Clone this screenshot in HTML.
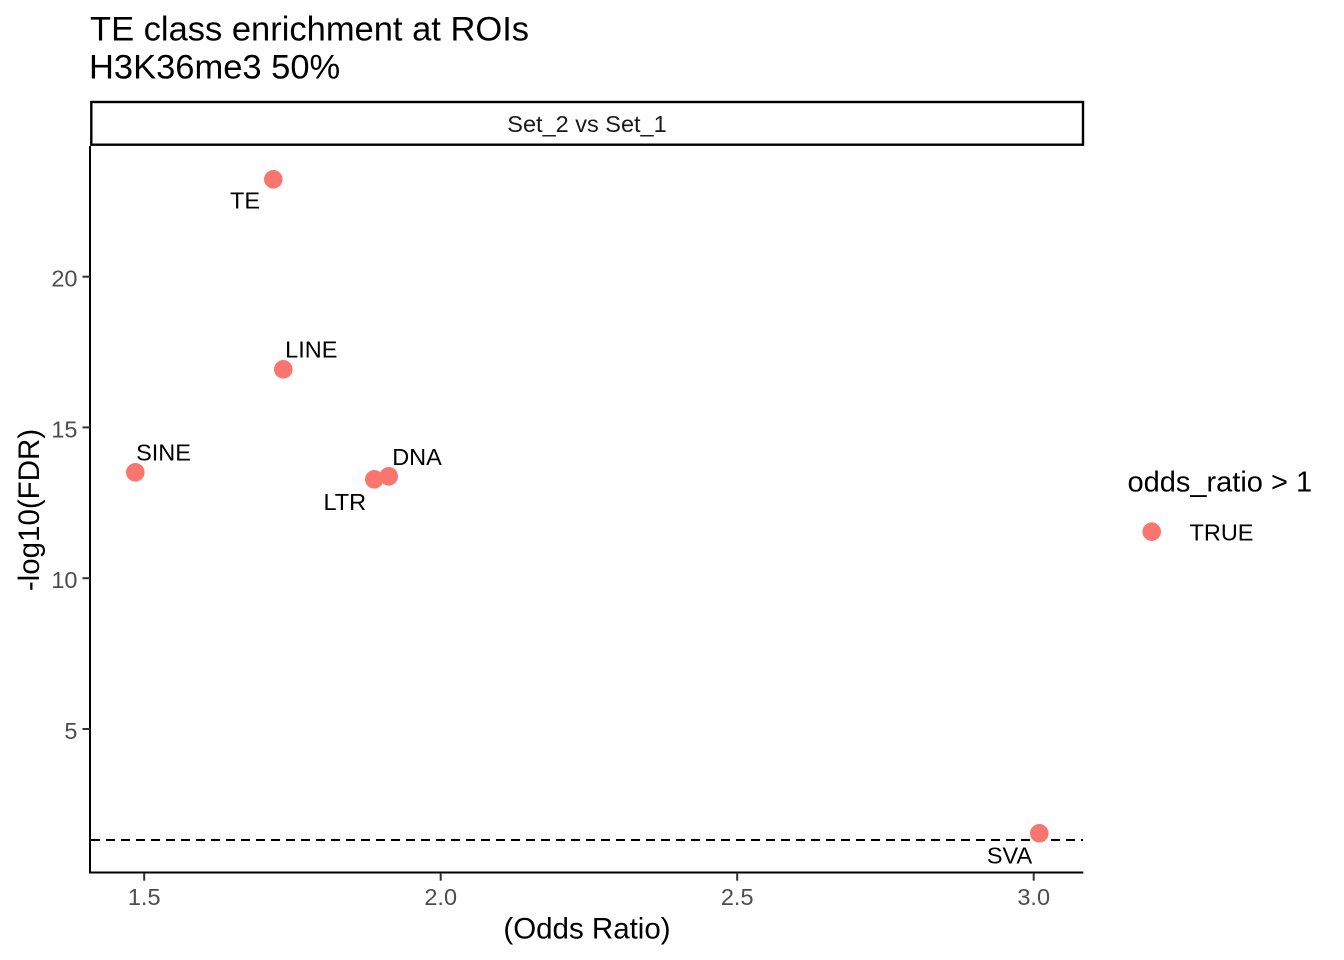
<!DOCTYPE html>
<html>
<head>
<meta charset="utf-8">
<style>
  html, body { margin: 0; padding: 0; background: #ffffff; }
  svg { display: block; }
  text { font-family: "Liberation Sans", Arial, sans-serif; }
</style>
</head>
<body>
<svg width="1344" height="960" viewBox="0 0 1344 960" xmlns="http://www.w3.org/2000/svg">
  <rect x="0" y="0" width="1344" height="960" fill="#ffffff"/>

  <!-- Title -->
  <text x="90" y="40.5" font-size="34.5" fill="#000000">TE class enrichment at ROIs</text>
  <text x="89" y="78.5" font-size="34.5" fill="#000000">H3K36me3 50%</text>

  <!-- Strip -->
  <rect x="91.3" y="102" width="991.7" height="42.7" fill="#ffffff" stroke="#000000" stroke-width="2.4"/>
  <text x="587" y="131.8" font-size="23.5" text-anchor="middle" fill="#1A1A1A">Set_2 vs Set_1</text>

  <!-- Dashed threshold line -->
  <line x1="91" y1="840" x2="1083" y2="840" stroke="#000000" stroke-width="2" stroke-dasharray="9 6"/>

  <!-- Axes -->
  <line x1="90" y1="146" x2="90" y2="873.5" stroke="#000000" stroke-width="2"/>
  <line x1="89" y1="872.5" x2="1083.3" y2="872.5" stroke="#000000" stroke-width="2"/>

  <!-- Y ticks -->
  <g stroke="#333333" stroke-width="2">
    <line x1="82.5" y1="729" x2="90" y2="729"/>
    <line x1="82.5" y1="578.2" x2="90" y2="578.2"/>
    <line x1="82.5" y1="427.4" x2="90" y2="427.4"/>
    <line x1="82.5" y1="276.7" x2="90" y2="276.7"/>
  </g>
  <g font-size="23.5" fill="#4D4D4D" text-anchor="end">
    <text x="77.5" y="739">5</text>
    <text x="77.5" y="588.2">10</text>
    <text x="77.5" y="437.4">15</text>
    <text x="77.5" y="286.7">20</text>
  </g>

  <!-- X ticks -->
  <g stroke="#333333" stroke-width="2">
    <line x1="144.2" y1="873" x2="144.2" y2="880.7"/>
    <line x1="440.7" y1="873" x2="440.7" y2="880.7"/>
    <line x1="737.2" y1="873" x2="737.2" y2="880.7"/>
    <line x1="1033.7" y1="873" x2="1033.7" y2="880.7"/>
  </g>
  <g font-size="23.5" fill="#4D4D4D" text-anchor="middle">
    <text x="144.2" y="905">1.5</text>
    <text x="440.7" y="905">2.0</text>
    <text x="737.2" y="905">2.5</text>
    <text x="1033.7" y="905">3.0</text>
  </g>

  <!-- Axis titles -->
  <text x="587" y="938.5" font-size="29.5" text-anchor="middle" fill="#000000">(Odds Ratio)</text>
  <text transform="translate(39,510) rotate(-90)" font-size="29.5" text-anchor="middle" fill="#000000">-log10(FDR)</text>

  <!-- Points -->
  <g fill="#F8766D">
    <circle cx="273.3" cy="179.3" r="9.3"/>
    <circle cx="283.3" cy="369.3" r="9.3"/>
    <circle cx="135.3" cy="472.3" r="9.3"/>
    <circle cx="374.3" cy="479.3" r="9.3"/>
    <circle cx="388.7" cy="476.3" r="9.3"/>
    <circle cx="1039.3" cy="833.3" r="9.3"/>
  </g>

  <!-- Point labels -->
  <g font-size="23.5" fill="#000000" text-anchor="middle">
    <text x="245" y="208.3">TE</text>
    <text x="311.3" y="357.3">LINE</text>
    <text x="163.5" y="460.7">SINE</text>
    <text x="417" y="465">DNA</text>
    <text x="344.8" y="510">LTR</text>
    <text x="1009.5" y="863.3">SVA</text>
  </g>

  <!-- Legend -->
  <text x="1127.5" y="491.5" font-size="29" fill="#000000">odds_ratio &gt; 1</text>
  <circle cx="1151.7" cy="531.7" r="9.3" fill="#F8766D"/>
  <text x="1189.5" y="540.7" font-size="23.5" fill="#000000">TRUE</text>
</svg>
</body>
</html>
